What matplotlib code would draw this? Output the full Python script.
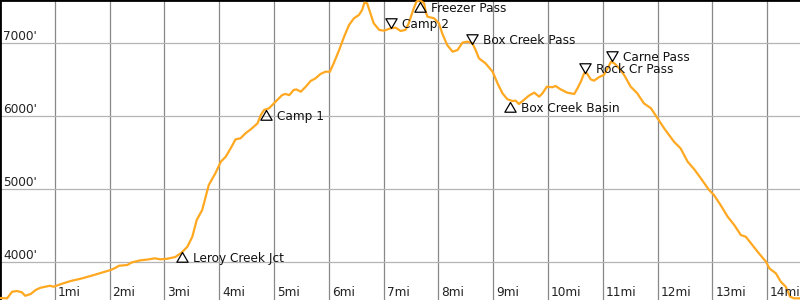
import matplotlib
matplotlib.use("Agg")
import matplotlib.pyplot as plt

# elevation profile, miles vs feet
miles = [0.01, 0.13, 0.22, 0.31, 0.40, 0.46, 0.56, 0.65, 0.74, 0.83, 0.91, 0.98,
         1.10, 1.29, 1.47, 1.65, 1.83, 2.02, 2.11, 2.17, 2.32, 2.41, 2.56, 2.72,
         2.82, 2.93, 3.05, 3.20, 3.31, 3.42, 3.51, 3.59, 3.69, 3.81, 3.93, 4.03,
         4.12, 4.21, 4.30, 4.39, 4.48, 4.60, 4.70, 4.76, 4.82, 4.91, 5.03, 5.15,
         5.21, 5.28, 5.36, 5.41, 5.49, 5.58, 5.67, 5.76, 5.85, 5.94, 6.02, 6.09,
         6.19, 6.28, 6.37, 6.46, 6.55, 6.61, 6.65, 6.70, 6.76, 6.82, 6.92, 7.01,
         7.13, 7.22, 7.31, 7.40, 7.46, 7.54, 7.60, 7.66, 7.74, 7.77, 7.80, 7.92,
         8.01, 8.07, 8.16, 8.26, 8.35, 8.44, 8.53, 8.62, 8.68, 8.74, 8.86, 8.99,
         9.08, 9.17, 9.26, 9.35, 9.41, 9.47, 9.56, 9.65, 9.75, 9.84, 9.90, 9.98,
         10.08, 10.14, 10.23, 10.35, 10.48, 10.54, 10.60, 10.66, 10.71, 10.78,
         10.84, 10.93, 11.02, 11.09, 11.15, 11.21, 11.30, 11.39, 11.51, 11.63,
         11.75, 11.88, 12.00, 12.12, 12.21, 12.30, 12.42, 12.55, 12.67, 12.79,
         12.94, 13.03, 13.15, 13.28, 13.40, 13.52, 13.61, 13.73, 13.85, 13.98,
         14.04, 14.16, 14.25, 14.34, 14.42, 14.49, 14.61]
elev = [3511, 3507, 3597, 3607, 3589, 3542, 3566, 3621, 3652, 3666, 3679, 3666,
        3699, 3744, 3775, 3812, 3853, 3895, 3926, 3953, 3963, 4000, 4027, 4041,
        4055, 4041, 4049, 4073, 4130, 4214, 4351, 4580, 4717, 5059, 5219, 5378,
        5447, 5562, 5685, 5699, 5767, 5836, 5904, 6018, 6087, 6110, 6200, 6292,
        6306, 6290, 6361, 6368, 6337, 6406, 6484, 6521, 6580, 6611, 6611, 6726,
        6909, 7091, 7251, 7343, 7388, 7457, 7557, 7548, 7411, 7274, 7183, 7173,
        7206, 7214, 7169, 7183, 7274, 7457, 7570, 7592, 7548, 7433, 7365, 7343,
        7274, 7137, 6977, 6885, 6908, 7009, 7022, 7000, 6908, 6795, 6726, 6611,
        6452, 6315, 6233, 6210, 6214, 6169, 6224, 6282, 6324, 6269, 6315, 6406,
        6398, 6415, 6370, 6324, 6306, 6384, 6474, 6589, 6589, 6507,
        6488, 6535, 6566, 6658, 6748, 6726, 6658, 6566, 6406, 6315,
        6178, 6110, 5973, 5836, 5744, 5652, 5562, 5378, 5274, 5151,
        4991, 4922, 4785, 4625, 4511, 4374, 4351, 4237, 4123, 4008,
        3918, 3849, 3734, 3666, 3529, 3507, 3507]

# waypoints: name, mile, elevation, marker direction
wp_names = ["Leroy Creek Jct", "Camp 1", "Camp 2", "Freezer Pass",
            "Box Creek Pass", "Box Creek Basin", "Rock Cr Pass", "Carne Pass"]
wp_miles = [3.33, 4.85, 7.13, 7.66, 8.61, 9.31, 10.68, 11.17]
wp_elev = [4135, 6080, 7206, 7570, 6991, 6200, 6589, 6762]
wp_up = [True, True, False, True, False, True, False, False]

x_ticks = list(range(1, 15))
x_labels = [f"{m}mi" for m in x_ticks]
y_ticks = [4000, 5000, 6000, 7000]
y_labels = [f"{e}'" for e in y_ticks]

fig = plt.figure(figsize=(8, 3), dpi=100)
ax = fig.add_axes([0, 0, 1, 1])
ax.set_xlim(0, 14.6)
ax.set_ylim(3484, 7593)

ax.set_xticks(x_ticks)
ax.set_yticks(y_ticks)
ax.tick_params(length=0, labelbottom=False, labelleft=False)
ax.xaxis.grid(True, color="#888888", lw=0.9)
ax.yaxis.grid(True, color="#b4b4b4", lw=0.9)
ax.set_axisbelow(True)

for s in ["right", "bottom"]:
    ax.spines[s].set_visible(False)
for s in ["top", "left"]:
    ax.spines[s].set_color("black")
    ax.spines[s].set_linewidth(2)

ax.plot(miles, elev, color="#ffa820", lw=1.6, zorder=3)

fs = 8.7
for m, lab in zip(x_ticks, x_labels):
    ax.annotate(lab, xy=(m, 0), xycoords=("data", "axes fraction"),
                xytext=(3, 4), textcoords="offset pixels",
                ha="left", va="baseline", fontsize=fs, color="#222222")
for e, lab in zip(y_ticks, y_labels):
    ax.annotate(lab, xy=(0, e), xycoords=("axes fraction", "data"),
                xytext=(3, 3), textcoords="offset pixels",
                ha="left", va="baseline", fontsize=fs, color="#222222")

# triangles with the tip on the track
tri_up = [(0, 0), (-0.58, -1), (0.58, -1), (0, 0)]
tri_dn = [(0, 0), (-0.58, 1), (0.58, 1), (0, 0)]
for name, m, e, up in zip(wp_names, wp_miles, wp_elev, wp_up):
    ax.plot([m], [e], marker=tri_up if up else tri_dn, ms=14,
            mfc="none", mec="black", mew=0.9, ls="none", zorder=4)
    dy = -10 if up else 0
    ax.annotate(name, xy=(m, e), xytext=(11, dy),
                textcoords="offset pixels", ha="left", va="baseline",
                fontsize=fs, color="#111111", zorder=4)

fig.savefig("out.png", dpi=100)
